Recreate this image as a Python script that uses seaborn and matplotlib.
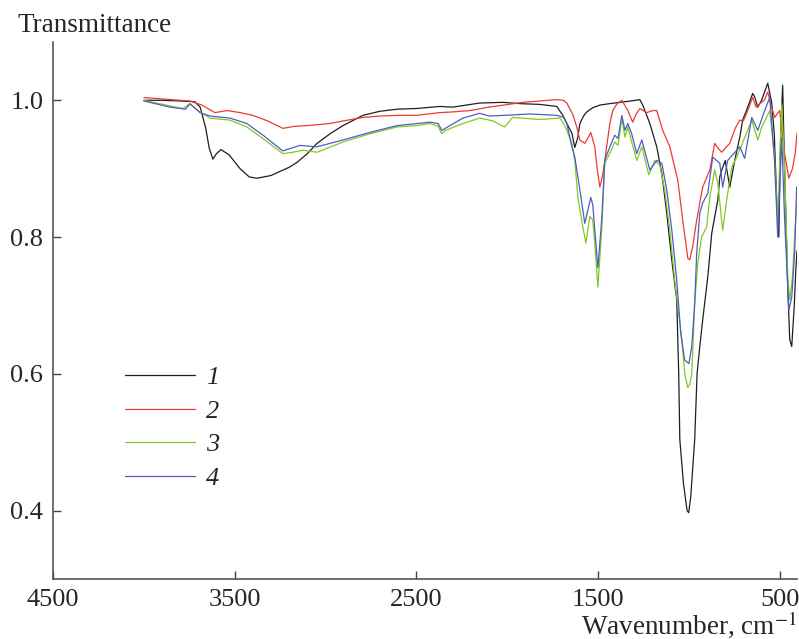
import numpy as np
import pandas as pd
import matplotlib
matplotlib.use("Agg")
import matplotlib.pyplot as plt
import seaborn as sns

# IR spectra (wavenumber, cm-1 / transmittance)
wn1 = [4000, 3900, 3800, 3720, 3690, 3660, 3640, 3620, 3600, 3575,
       3530, 3470, 3420, 3378, 3300, 3251, 3200, 3158, 3100, 3047,
       2970, 2904, 2794, 2700, 2607, 2500, 2371, 2300, 2151, 2024,
       1920, 1820, 1727, 1694, 1660, 1644, 1628, 1612, 1600, 1580,
       1562, 1530, 1490, 1440, 1380, 1320, 1270, 1254, 1235, 1215,
       1177, 1149, 1122, 1094, 1067, 1056, 1050, 1030, 1010, 1001,
       990, 968, 955, 940, 924, 896, 874, 841, 830, 819,
       800, 775, 748, 720, 704, 676, 649, 638, 621, 600,
       566, 544, 530, 516, 505, 495, 484, 473, 456, 445,
       434, 420, 412, 405]
t1 = [1.000, 1.000, 0.999, 0.998, 0.990, 0.960, 0.930, 0.914, 0.922, 0.928,
      0.920, 0.900, 0.888, 0.886, 0.890, 0.896, 0.902, 0.909, 0.922, 0.937,
      0.952, 0.963, 0.978, 0.984, 0.987, 0.988, 0.991, 0.990, 0.996, 0.997,
      0.995, 0.994, 0.991, 0.978, 0.960, 0.952, 0.931, 0.945, 0.966, 0.977,
      0.983, 0.989, 0.993, 0.995, 0.997, 0.999, 1.001, 0.993, 0.980, 0.966,
      0.932, 0.893, 0.835, 0.766, 0.708, 0.600, 0.504, 0.440, 0.400, 0.397,
      0.420, 0.504, 0.600, 0.640, 0.679, 0.742, 0.806, 0.854, 0.888, 0.898,
      0.912, 0.873, 0.912, 0.946, 0.971, 0.990, 1.010, 1.005, 0.990, 1.000,
      1.025, 0.996, 0.950, 0.850, 0.800, 0.950, 1.022, 0.898, 0.727, 0.650,
      0.640, 0.700, 0.750, 0.780]

wn2 = [4000, 3900, 3800, 3746, 3680, 3609, 3543, 3470, 3400, 3320,
       3235, 3170, 3103, 2976, 2900, 2794, 2700, 2607, 2500, 2371,
       2300, 2206, 2100, 2020, 1914, 1820, 1727, 1690, 1672, 1640,
       1617, 1600, 1573, 1555, 1540, 1518, 1505, 1490, 1475, 1463,
       1435, 1419, 1395, 1369, 1336, 1309, 1290, 1270, 1232, 1200,
       1177, 1144, 1105, 1061, 1034, 1006, 995, 979, 957, 940,
       924, 885, 858, 840, 819, 800, 775, 745, 720, 700,
       676, 649, 630, 610, 585, 566, 545, 528, 500, 485,
       473, 450, 430, 415, 405]
t2 = [1.004, 1.002, 1.000, 0.999, 0.993, 0.982, 0.985, 0.982, 0.978, 0.970,
      0.959, 0.962, 0.963, 0.966, 0.970, 0.975, 0.977, 0.978, 0.978, 0.982,
      0.983, 0.985, 0.990, 0.993, 0.997, 0.999, 1.001, 1.000, 0.996, 0.980,
      0.961, 0.942, 0.937, 0.945, 0.953, 0.932, 0.900, 0.873, 0.890, 0.912,
      0.966, 0.985, 0.995, 1.000, 0.985, 0.968, 0.980, 0.988, 0.982, 0.985,
      0.985, 0.956, 0.932, 0.883, 0.825, 0.769, 0.767, 0.786, 0.825, 0.850,
      0.873, 0.898, 0.937, 0.930, 0.924, 0.930, 0.937, 0.959, 0.971, 0.970,
      0.985, 1.004, 0.990, 0.995, 1.000, 1.012, 0.990, 0.975, 0.985, 0.950,
      0.922, 0.886, 0.900, 0.922, 0.952]

wn3 = [4000, 3895, 3785, 3746, 3702, 3636, 3526, 3433, 3344, 3235,
       3180, 3124, 3047, 2904, 2756, 2607, 2500, 2426, 2380, 2360,
       2340, 2244, 2151, 2080, 2014, 1970, 1820, 1710, 1690, 1672,
       1644, 1628, 1611, 1584, 1567, 1545, 1529, 1515, 1501, 1480,
       1463, 1435, 1408, 1390, 1369, 1352, 1336, 1315, 1287, 1259,
       1221, 1188, 1160, 1133, 1105, 1078, 1039, 1023, 1006, 995,
       984, 968, 951, 930, 902, 885, 858, 841, 814, 790,
       764, 737, 710, 682, 654, 621, 600, 555, 530, 511,
       489, 473, 456, 445, 430, 418, 407]
t3 = [1.000, 0.994, 0.988, 0.995, 0.985, 0.974, 0.971, 0.961, 0.944, 0.922,
      0.924, 0.927, 0.924, 0.939, 0.951, 0.961, 0.963, 0.966, 0.962, 0.951,
      0.956, 0.966, 0.974, 0.970, 0.961, 0.975, 0.972, 0.974, 0.966, 0.956,
      0.937, 0.912, 0.858, 0.815, 0.791, 0.830, 0.825, 0.780, 0.727, 0.810,
      0.908, 0.922, 0.939, 0.934, 0.974, 0.946, 0.961, 0.939, 0.912, 0.932,
      0.891, 0.912, 0.905, 0.869, 0.810, 0.737, 0.650, 0.600, 0.580, 0.585,
      0.600, 0.704, 0.762, 0.800, 0.815, 0.858, 0.898, 0.879, 0.810, 0.858,
      0.902, 0.917, 0.934, 0.953, 0.971, 0.942, 0.960, 0.985, 0.922, 0.825,
      0.995, 0.898, 0.742, 0.708, 0.742, 0.800, 0.850]

wn4 = [4000, 3856, 3770, 3746, 3691, 3636, 3526, 3433, 3344, 3235,
       3141, 3047, 2904, 2756, 2607, 2426, 2380, 2360, 2244, 2151,
       2100, 2014, 1875, 1727, 1690, 1672, 1644, 1628, 1600, 1573,
       1540, 1529, 1501, 1480, 1463, 1435, 1408, 1390, 1369, 1352,
       1336, 1315, 1287, 1259, 1215, 1177, 1149, 1122, 1094, 1067,
       1045, 1023, 1000, 984, 968, 957, 940, 924, 896, 869,
       830, 814, 787, 760, 720, 693, 654, 621, 583, 555,
       528, 511, 489, 473, 450, 434, 418, 407]
t4 = [0.999, 0.990, 0.987, 0.995, 0.982, 0.977, 0.974, 0.966, 0.949, 0.926,
      0.934, 0.932, 0.942, 0.953, 0.963, 0.968, 0.966, 0.956, 0.974, 0.981,
      0.977, 0.978, 0.980, 0.978, 0.975, 0.966, 0.932, 0.917, 0.869, 0.820,
      0.858, 0.847, 0.755, 0.825, 0.912, 0.932, 0.949, 0.944, 0.978, 0.956,
      0.966, 0.951, 0.922, 0.942, 0.898, 0.912, 0.908, 0.869, 0.810, 0.737,
      0.660, 0.620, 0.615, 0.640, 0.704, 0.777, 0.835, 0.850, 0.864, 0.917,
      0.908, 0.873, 0.912, 0.920, 0.932, 0.915, 0.975, 0.956, 0.985, 1.004,
      0.908, 0.800, 0.946, 0.825, 0.693, 0.712, 0.777, 0.873]

labels = ["1", "2", "3", "4"]
colors = ["#1e1e1e", "#ec3a30", "#7fcb22", "#4f5cc4"]

frames = []
for lab, w, t in zip(labels, [wn1, wn2, wn3, wn4], [t1, t2, t3, t4]):
    frames.append(pd.DataFrame({"wn": w, "T": t, "series": lab}))
df = pd.concat(frames, ignore_index=True)

sns.set_style("ticks")
plt.rcParams["font.family"] = ["Liberation Serif", "DejaVu Serif"]
plt.rcParams["mathtext.fontset"] = "stix"

fig = plt.figure(figsize=(7.99, 6.39), dpi=100)
ax = fig.add_axes([0.0663, 0.0939, 0.9312, 0.8401])

sns.lineplot(data=df, x="wn", y="T", hue="series", palette=colors,
             estimator=None, sort=False, linewidth=0.9, ax=ax)

ax.set_xlim(4500, 405)
ax.set_ylim(0.3, 1.085)
ax.set_xticks([4500, 3500, 2500, 1500, 500])
ax.set_yticks([0.4, 0.6, 0.8, 1.0])
ax.set_yticklabels(["0.4", "0.6", "0.8", "1.0"])
ax.set_xlabel("")
ax.set_ylabel("")
ax.tick_params(direction="in", length=6, width=1.0, labelsize=19,
               color="#444444", pad=7)
for s in ["left", "bottom"]:
    ax.spines[s].set_linewidth(1.2)
    ax.spines[s].set_color("#555555")
sns.despine(ax=ax)

handles, labs = ax.get_legend_handles_labels()
ax.legend(handles, labs, loc="upper left", bbox_to_anchor=(0.097, 0.397),
          frameon=False, handlelength=2.65, handletextpad=0.4,
          labelspacing=0.38, borderpad=0, borderaxespad=0,
          prop={"family": "Liberation Serif", "style": "italic", "size": 19})

fig.text(17 / 799, 1 - 25 / 639, "Transmittance", fontsize=19.5,
         ha="left", va="center")
fig.text(797 / 799, 1 - 625 / 639, "Wavenumber, cm$^{-1}$", fontsize=19.5,
         ha="right", va="center")

fig.savefig("out.png", dpi=100)
